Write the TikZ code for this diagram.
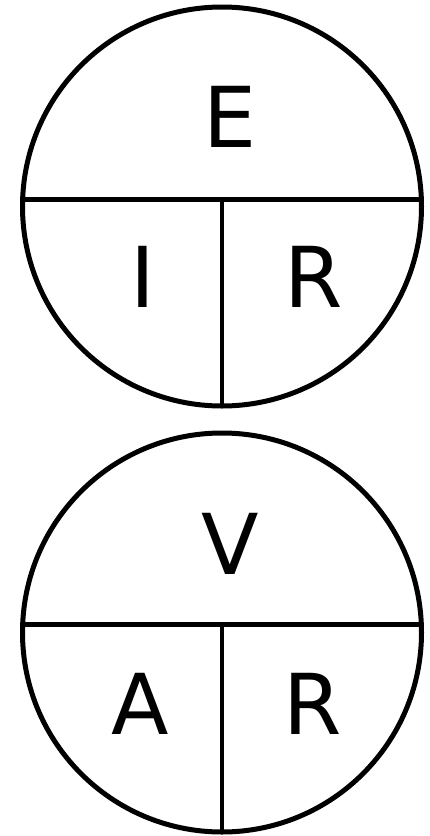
\documentclass[tikz,border=0pt]{standalone}
\usepackage{fontspec}
\setmainfont{DejaVu Sans}
\begin{document}
\begin{tikzpicture}[x=1pt,y=-1pt,
  ring/.style={draw=black,line width=5pt,circle,minimum size=399pt,inner sep=0pt},
  hdivider/.style={draw=black,line width=5pt},
  vdivider/.style={draw=black,line width=4.2pt},
  letter/.style={inner sep=0pt,font=\fontsize{84}{84}\selectfont}]
\useasboundingbox (0,0) rectangle (430,836);
% top circle
\node[ring] (c1) at (222,206.5) {};
\coordinate (h1l) at (22.6,199.5);
\coordinate (h1r) at (421.4,199.5);
\coordinate (v1t) at (222,199.5);
\coordinate (v1b) at (222,405.5);
\draw[hdivider] (h1l) -- (h1r);
\draw[vdivider] (v1t) -- (v1b);
\node[letter] (E) at (230,116.5) {E};
\node[letter] (I) at (143,277) {I};
\node[letter] (R1) at (314,277) {R};
% bottom circle
\node[ring] (c2) at (222,632.5) {};
\coordinate (h2l) at (22.8,624);
\coordinate (h2r) at (421.2,624);
\coordinate (v2t) at (222,624);
\coordinate (v2b) at (222,831.5);
\draw[hdivider] (h2l) -- (h2r);
\draw[vdivider] (v2t) -- (v2b);
\node[letter] (V) at (230.5,544) {V};
\node[letter] (A) at (140,704) {A};
\node[letter] (R2) at (313,704) {R};
\end{tikzpicture}
\end{document}
